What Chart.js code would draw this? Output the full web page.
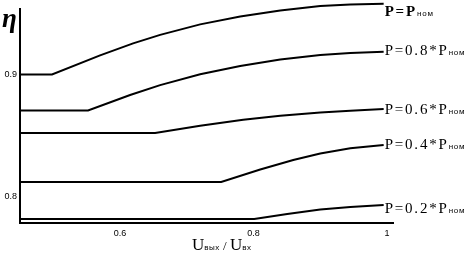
<!DOCTYPE html>
<html><head><meta charset="utf-8">
<style>html,body{margin:0;padding:0;background:#fff}canvas{display:block}</style>
<script src="https://cdn.jsdelivr.net/npm/chart.js@4/dist/chart.umd.min.js"></script>
</head><body>
<canvas id="c" width="470" height="253"></canvas>
<script>
// ---- data ----
const xTicks = [0.6, 0.8, 1];
const yTicks = [0.8, 0.9];
const labelMain = ['P=P', 'P=0.8*P', 'P=0.6*P', 'P=0.4*P', 'P=0.2*P'];
const labelSub = 'ном';

const xP100 = [0.45, 0.498, 0.57, 0.6195, 0.66, 0.72, 0.78, 0.84, 0.90, 0.945, 0.995];
const yP100 = [0.900, 0.900, 0.9157, 0.9255, 0.9325, 0.9411, 0.9476, 0.9525, 0.9561, 0.9574, 0.9580];

const xP80 = [0.45, 0.552, 0.615, 0.66, 0.72, 0.78, 0.84, 0.90, 0.945, 0.995];
const yP80 = [0.8705, 0.8705, 0.8832, 0.8913, 0.9002, 0.9070, 0.9123, 0.9159, 0.9176, 0.9187];

const xP60 = [0.45, 0.6525, 0.72, 0.7845, 0.84, 0.90, 0.945, 0.995];
const yP60 = [0.852, 0.852, 0.8580, 0.8629, 0.8662, 0.8689, 0.8703, 0.8717];

const xP40 = [0.45, 0.7515, 0.81, 0.8595, 0.90, 0.945, 0.995];
const yP40 = [0.8119, 0.8119, 0.8221, 0.8300, 0.8353, 0.8395, 0.8422];

const xP20 = [0.45, 0.801, 0.8505, 0.90, 0.945, 0.995];
const yP20 = [0.7816, 0.7816, 0.7857, 0.7893, 0.7915, 0.7930];

const seriesX = [xP100, xP80, xP60, xP40, xP20];
const seriesY = [yP100, yP80, yP60, yP40, yP20];

// ---- styling ----
const labelBaseDy = [12, 3, 5, 4, 8];
const SERIF = '"Liberation Serif", "Times New Roman", serif';
const SANS = '"Liberation Sans", Arial, sans-serif';

function drawRich(ctx, x, y, parts) {
  for (const p of parts) {
    ctx.font = p.font;
    ctx.letterSpacing = p.ls || '0px';
    ctx.fillText(p.t, x, y + (p.dy || 0));
    x += ctx.measureText(p.t).width;
  }
  ctx.letterSpacing = '0px';
}

const textPlugin = {
  id: 'texts',
  afterDraw(chart) {
    const ctx = chart.ctx;
    ctx.save();
    ctx.fillStyle = '#000';
    ctx.textAlign = 'left';
    ctx.textBaseline = 'alphabetic';
    chart.data.datasets.forEach((ds, i) => {
      const meta = chart.getDatasetMeta(i);
      const pt = meta.data[meta.data.length - 1];
      const bx = pt.x + 1, by = pt.y + labelBaseDy[i];
      const bold = i === 0 ? 'bold ' : '';
      drawRich(ctx, bx, by, [
        {t: labelMain[i], font: bold + '15px ' + SERIF, ls: '1.8px'},
        {t: labelSub, font: '8px ' + SANS, ls: '0.8px'}
      ]);
    });
    // eta
    ctx.font = 'bold italic 27px ' + SERIF;
    ctx.fillText('η', 2, 27);
    // x title
    drawRich(ctx, 192, 250, [
      {t: 'U', font: '17px ' + SERIF},
      {t: 'вых', font: '8px ' + SANS, ls: '0.5px'},
      {t: ' / ', font: '13px ' + SERIF},
      {t: 'U', font: '17px ' + SERIF},
      {t: 'вх', font: '8px ' + SANS, ls: '0.5px'}
    ]);
    ctx.restore();
  }
};

new Chart(document.getElementById('c'), {
  type: 'scatter',
  data: {
    datasets: seriesX.map((xs, i) => ({
      label: labelMain[i] + labelSub,
      data: xs.map((x, j) => ({x: x, y: seriesY[i][j]})),
      showLine: true,
      borderColor: '#000',
      borderWidth: 2,
      pointRadius: 0,
      tension: 0,
      clip: false,
      fill: false
    }))
  },
  options: {
    responsive: false,
    animation: false,
    devicePixelRatio: 1,
    layout: {padding: {left: 0, right: 77, top: 9, bottom: 0}},
    plugins: {legend: {display: false}, tooltip: {enabled: false}},
    scales: {
      x: {
        type: 'linear', min: 0.45, max: 1.009,
        grid: {display: false, drawTicks: false},
        border: {display: true, color: '#000', width: 2},
        afterBuildTicks: s => { s.ticks = xTicks.map(v => ({value: v})); },
        afterFit: s => { s.height = 30; },
        ticks: {color: '#000', font: {family: 'Liberation Sans', size: 9}, padding: 5,
                maxRotation: 0, autoSkip: false,
                callback: v => v === 1 ? '1' : v.toFixed(1)}
      },
      y: {
        type: 'linear', min: 0.7783, max: 0.9537,
        grid: {display: false, drawTicks: false},
        border: {display: true, color: '#000', width: 2},
        afterBuildTicks: s => { s.ticks = yTicks.map(v => ({value: v})); },
        afterFit: s => { s.width = 20; },
        ticks: {color: '#000', font: {family: 'Liberation Sans', size: 9}, padding: 3,
                autoSkip: false, callback: v => v.toFixed(1)}
      }
    }
  },
  plugins: [textPlugin]
});
</script>
</body></html>
